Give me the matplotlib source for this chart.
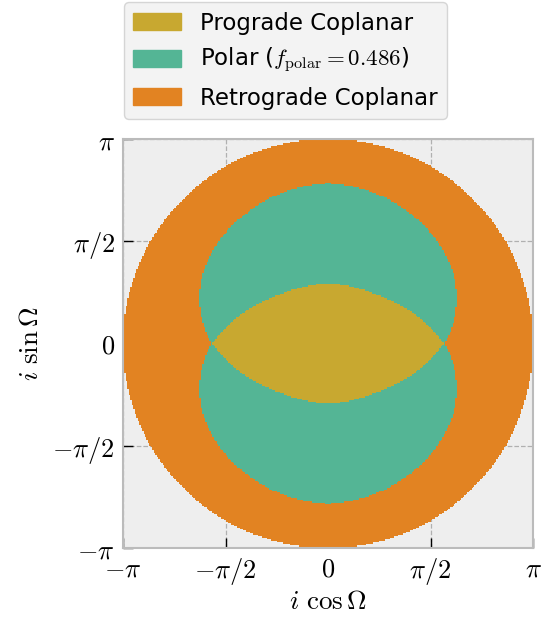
import numpy as np
import matplotlib
matplotlib.use('Agg')
import matplotlib.pyplot as plt
from matplotlib.colors import ListedColormap
from matplotlib.patches import Patch

plt.rcParams['mathtext.fontset'] = 'cm'

########
# data (one quadrant, map is mirror symmetric)
########
omega_deg = np.array([0, 10, 20, 30, 40, 50, 60, 70, 80, 90])
# outer edge of the prograde coplanar region [rad]
r_prograde = np.array([1.77, 1.56, 1.38, 1.22, 1.10, 1.02, 0.97, 0.94, 0.925, 0.92])
# outer edge of the polar region [rad]
r_polar = np.array([1.78, 1.96, 2.10, 2.21, 2.28, 2.33, 2.37, 2.41, 2.44, 2.46])
f_polar = 0.486

labels = ['Prograde Coplanar', r'Polar ($f_{\rm polar}=%.3f$)' % f_polar, 'Retrograde Coplanar']
colors = ['#c8a830', '#54b595', '#e28322']
tick_vals = [-np.pi, -np.pi/2, 0, np.pi/2, np.pi]
tick_labels = [r'$-\pi$', r'$-\pi/2$', r'$0$', r'$\pi/2$', r'$\pi$']

########
# classify grid
########
n_grid = 280
edges = np.linspace(-np.pi, np.pi, n_grid + 1)
mid = 0.5*(edges[1:] + edges[:-1])
X, Y = np.meshgrid(mid, mid)
R = np.hypot(X, Y)
phi = np.degrees(np.arctan2(np.abs(Y), np.abs(X)))
r_in = np.interp(phi, omega_deg, r_prograde)
r_out = np.interp(phi, omega_deg, r_polar)
cls = np.where(R <= r_in, 0, np.where(R <= r_out, 1, 2)).astype(float)
cls = np.ma.masked_where(R > np.pi, cls)

fig = plt.figure(figsize=(5.42, 6.19), dpi=100)
ax = fig.add_axes([0.227, 0.1147, 0.7565, 0.6607])
ax.set_facecolor('#eeeeee')
ax.set_axisbelow(True)
ax.grid(True, ls='--', color='#b0b0b0', lw=0.9)
ax.pcolormesh(edges, edges, cls, cmap=ListedColormap(colors), vmin=-0.5, vmax=2.5)

ax.set_xlim(-np.pi, np.pi)
ax.set_ylim(-np.pi, np.pi)
ax.set_xticks(tick_vals)
ax.set_xticklabels(tick_labels)
ax.set_yticks(tick_vals)
ax.set_yticklabels(tick_labels)
ax.tick_params(direction='in', length=7, width=1, labelsize=19, pad=6)
for s in ax.spines.values():
    s.set_color('#bbbbbb')
    s.set_linewidth(1.5)
ax.set_xlabel(r'$i\ \cos\Omega$', fontsize=19.5, labelpad=1)
ax.set_ylabel(r'$i\ \sin\Omega$', fontsize=19.5, labelpad=6)

handles = [Patch(color=c) for c in colors]
leg = fig.legend(handles, labels, loc='upper left', bbox_to_anchor=(0.229, 0.996),
                 fontsize=16.5, handlelength=2.1, handleheight=0.75, labelspacing=0.5,
                 frameon=True, fancybox=True, borderaxespad=0)
leg.get_frame().set_facecolor('#f0f0f0')
leg.get_frame().set_edgecolor('#cccccc')

fig.savefig('out.png', dpi=100)
